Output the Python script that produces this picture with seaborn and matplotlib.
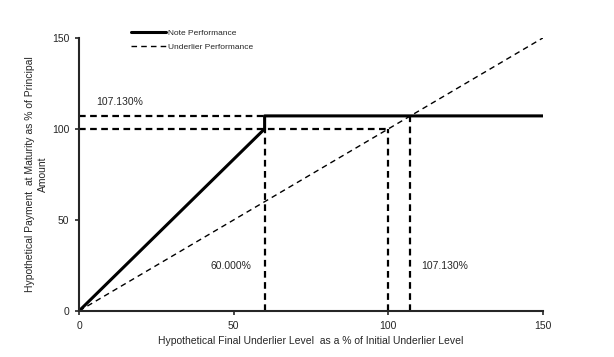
import matplotlib
matplotlib.use("Agg")
import matplotlib.pyplot as plt
import numpy as np
import pandas as pd
import seaborn as sns

# payoff curve data
note_x = [0, 60, 60, 150]
note_y = [0, 100, 107.13, 107.13]
under_x = [0, 150]
under_y = [0, 150]

cap_level = 107.13
trigger = 60
par = 100

sns.set_style("ticks")
plt.rcParams['font.family'] = ['Liberation Sans', 'DejaVu Sans']

fig = plt.figure(figsize=(6.14, 3.57), dpi=100)
ax = fig.add_axes([0.1287, 0.129, 0.7557, 0.765])

note = pd.DataFrame({'x': note_x, 'y': note_y})
under = pd.DataFrame({'x': under_x, 'y': under_y})
sns.lineplot(data=note, x='x', y='y', ax=ax, color='black', linewidth=2.2,
             label='Note Performance', sort=False, estimator=None)
sns.lineplot(data=under, x='x', y='y', ax=ax, color='black', linewidth=1,
             linestyle=(0, (4, 3)), label='Underlier Performance', sort=False, estimator=None)

# reference lines
dash = (0, (3, 2))
ax.plot([0, trigger], [cap_level, cap_level], color='black', lw=1.6, ls=dash)
ax.plot([0, par], [par, par], color='black', lw=1.6, ls=dash)
ax.plot([trigger, trigger], [0, par], color='black', lw=1.6, ls=dash)
ax.plot([par, par], [0, par], color='black', lw=1.6, ls=dash)
ax.plot([cap_level, cap_level], [0, cap_level], color='black', lw=1.6, ls=dash)

ax.text(5.5, 114.5, '107.130%', fontsize=7.5, va='center')
ax.text(42.5, 24.5, '60.000%', fontsize=7.5, va='center')
ax.text(110.5, 24.5, '107.130%', fontsize=7.5, va='center')

ax.set_xlim(0, 150)
ax.set_ylim(0, 150)
ax.set_xticks([0, 50, 100, 150])
ax.set_yticks([0, 50, 100, 150])
ax.tick_params(labelsize=7.5, length=3, width=1.2, direction='out', pad=4)
for s in ['left', 'bottom']:
    ax.spines[s].set_linewidth(1.5)
sns.despine(ax=ax)

ax.set_xlabel('Hypothetical Final Underlier Level  as a % of Initial Underlier Level', fontsize=7.5)
ax.set_ylabel('Hypothetical Payment  at Maturity as % of Principal\nAmount', fontsize=7.5,
              linespacing=1.35, labelpad=3)

leg = ax.legend(loc='upper left', bbox_to_anchor=(0.095, 1.058), frameon=False, fontsize=6,
                handlelength=4.2, handletextpad=0.3, labelspacing=0.7)

fig.savefig('out.png', dpi=100)
